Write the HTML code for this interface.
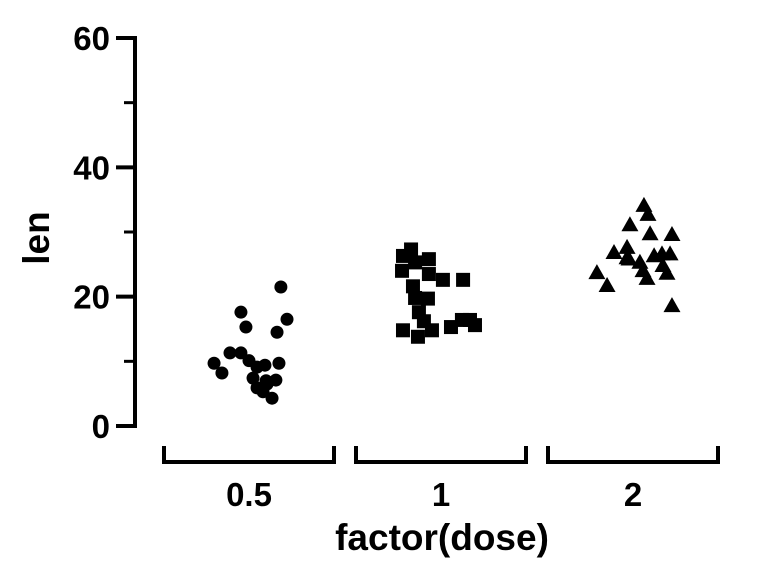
<!DOCTYPE html>
<html><head><meta charset="utf-8"><style>
html,body{margin:0;padding:0;background:#fff}
svg{display:block;font-family:"Liberation Sans",Arial,sans-serif;font-weight:bold}
</style></head><body>
<svg id="chart" width="768" height="576" viewBox="0 0 768 576"></svg>
<script>
const categories = ["0.5","1","2"];
const yTicks = [0,20,40,60];
const yMinorTicks = [10,30,50];
// jitter offsets (category units) and values per group
const jitter05 = [0.166,-0.042,0.198,-0.016,0.146,-0.099,-0.042,0,0.042,0.083,-0.182,0.156,-0.141,0.140,0.042,0.089,0.073,0.120,0.094,0.021];
const len05 = [21.5,17.6,16.5,15.3,14.5,11.3,11.3,10.1,9.1,9.4,9.7,9.7,8.2,7.1,5.9,7.0,5.3,4.3,6.5,7.4];
const jitter1 = [-0.156,-0.198,-0.135,-0.063,-0.203,-0.063,-0.146,-0.135,0.010,-0.115,-0.089,0.115,-0.198,-0.120,-0.047,0.052,0.151,0.177,0.109,-0.068];
const len1 = [27.3,26.3,25.3,25.8,24.0,23.5,21.6,19.8,22.6,17.6,16.2,22.6,14.8,13.8,14.8,15.3,16.4,15.6,16.4,19.7];
const jitter2 = [0.057,0.078,-0.016,0.089,0.203,-0.099,-0.031,-0.031,0.036,0.052,0.073,0.151,0.193,0.156,0.177,-0.188,-0.135,0.203,-0.021,0.110];
const len2 = [34.2,32.8,31.2,29.8,29.7,26.9,27.7,26.1,25.4,24.1,22.9,26.7,26.7,24.9,23.7,23.8,21.8,18.7,25.9,26.4];

const NS="http://www.w3.org/2000/svg";
const svg=document.getElementById('chart');
function mk(tag,attrs,parent){const e=document.createElementNS(NS,tag);for(const k in attrs)e.setAttribute(k,attrs[k]);(parent||svg).appendChild(e);return e;}
const y0=426, yTop=38, yMax=60;
function yScale(v){return y0-(v/yMax)*(y0-yTop);}
const xCenters=[249,441,633];
const catW=192;
function xScale(i,j){return xCenters[i]+j*catW;}

// y axis
const yAxis=mk('g',{});


mk('line',{x1:135,y1:yTop-2,x2:135,y2:y0+2,stroke:'#000','stroke-width':4},yAxis);
yTicks.forEach(t=>{
  const y=yScale(t);
  const l=mk('line',{x1:116,y1:y,x2:135,y2:y,stroke:'#000','stroke-width':4},yAxis);
  
  
  const tx=mk('text',{x:110,y:y+12,'text-anchor':'end','font-size':33},yAxis);
  tx.textContent=t;
  
  
});
yMinorTicks.forEach(t=>{
  const y=yScale(t);
  const l=mk('line',{x1:124,y1:y,x2:135,y2:y,stroke:'#000','stroke-width':3},yAxis);
  
  
});
const yt=mk('text',{x:0,y:0,'text-anchor':'middle','font-size':37,transform:'translate(49,238) rotate(-90)'});
yt.textContent='len';



// x axis brackets
categories.forEach((c,i)=>{
  const cx=xCenters[i], x1=cx-85, x2=cx+85;
  const p=mk('path',{d:`M${x1},446 L${x1},462 L${x2},462 L${x2},446`,fill:'none',stroke:'#000','stroke-width':4});
  
  
  const t=mk('text',{x:cx,y:506,'text-anchor':'middle','font-size':33});
  t.textContent=c;
  
  
});
const xt=mk('text',{x:442,y:550,'text-anchor':'middle','font-size':37});
xt.textContent='factor(dose)';



// points
jitter05.forEach((j,k)=>{
  const c=mk('circle',{cx:xScale(0,j),cy:yScale(len05[k]),r:6.5,fill:'#000'});
  
  
});
jitter1.forEach((j,k)=>{
  const x=xScale(1,j), y=yScale(len1[k]);
  const r=mk('rect',{x:x-7,y:y-7,width:14,height:14,fill:'#000'});
  
  
});
jitter2.forEach((j,k)=>{
  const x=xScale(2,j), y=yScale(len2[k]);
  const p=mk('polygon',{points:`${x},${y-8} ${x+8.5},${y+7} ${x-8.5},${y+7}`,fill:'#000'});
  
  
});
</script>
</body></html>
